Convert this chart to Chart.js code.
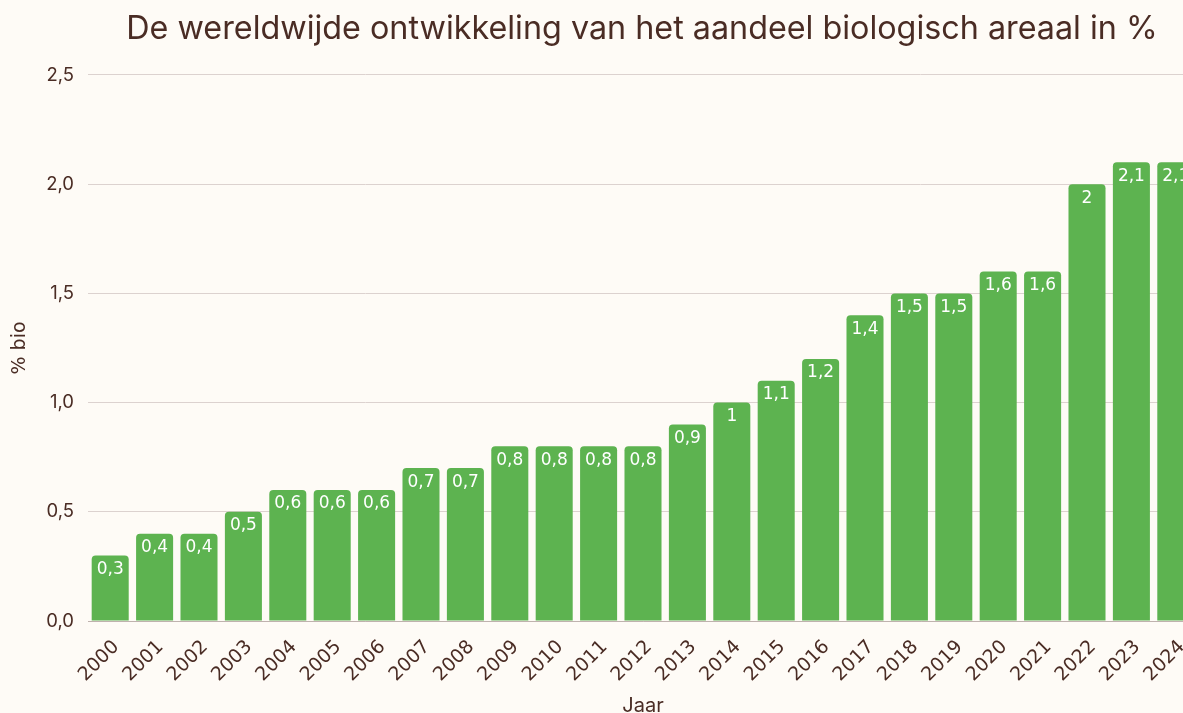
<!DOCTYPE html>
<html>
<head>
<meta charset="utf-8">
<script src="https://cdn.jsdelivr.net/npm/chart.js@4.4.1/dist/chart.umd.min.js"></script>
<style>
  html, body { margin: 0; padding: 0; background: #fefbf6; overflow: hidden; }
  #wrap { width: 1284px; height: 718px; position: relative; }
</style>
</head>
<body>
<div id="wrap"><canvas id="c"></canvas></div>
<script>
const years = ['2000','2001','2002','2003','2004','2005','2006','2007','2008','2009','2010','2011','2012','2013','2014','2015','2016','2017','2018','2019','2020','2021','2022','2023','2024'];
const bioShare = [0.3,0.4,0.4,0.5,0.6,0.6,0.6,0.7,0.7,0.8,0.8,0.8,0.8,0.9,1,1.1,1.2,1.4,1.5,1.5,1.6,1.6,2,2.1,2.1];
const yTicks = [0, 0.5, 1.0, 1.5, 2.0, 2.5];
const titleText = 'De wereldwijde ontwikkeling van het aandeel biologisch areaal in %';
const xTitle = 'Jaar';
const yTitle = '% bio';

const brown = '#4a2c24';
const fontFam = 'Inter, "Noto Sans", sans-serif';
const wideFam = '"DejaVu Sans", Inter, sans-serif';

const labelPlugin = {
  id: 'barLabels',
  afterDatasetsDraw(chart) {
    const ctx = chart.ctx;
    const meta = chart.getDatasetMeta(0);
    ctx.save();
    ctx.fillStyle = '#ffffff';
    ctx.font = '17px ' + wideFam;
    ctx.textAlign = 'center';
    ctx.textBaseline = 'middle';
    meta.data.forEach((bar, i) => {
      const v = chart.data.datasets[0].data[i];
      ctx.fillText(String(v).replace('.', ','), bar.x, bar.y + 14);
    });
    ctx.restore();
  }
};

new Chart(document.getElementById('c'), {
  type: 'bar',
  data: {
    labels: years,
    datasets: [{
      data: bioShare,
      backgroundColor: '#5db350',
      borderRadius: 4,
      borderSkipped: 'bottom',
      categoryPercentage: 1,
      barPercentage: 0.834
    }]
  },
  options: {
    responsive: true,
    maintainAspectRatio: false,
    animation: false,
    layout: { padding: 0 },
    plugins: {
      legend: { display: false },
      tooltip: { enabled: false },
      title: {
        display: true,
        text: titleText,
        color: brown,
        font: { family: fontFam, size: 32.3, weight: 'normal' },
        padding: { top: 10, bottom: 26.2 }
      }
    },
    scales: {
      x: {
        grid: { display: false, drawTicks: false },
        border: { display: true, color: '#bfb2ae', width: 1 },
        ticks: {
          color: brown,
          font: { family: wideFam, size: 19 },
          minRotation: 45, maxRotation: 45,
          padding: 15,
          labelOffset: 6,
          autoSkip: false
        },
        title: {
          display: true, text: xTitle, color: brown,
          font: { family: fontFam, size: 20 },
          padding: { top: 0, bottom: 0 }
        },
        afterFit(scale) { scale.height = 97; }
      },
      y: {
        min: 0, max: 2.5,
        afterBuildTicks(scale) { scale.ticks = yTicks.map(v => ({ value: v })); },
        grid: { color: '#dcd2cf', drawTicks: false },
        border: { display: false },
        ticks: {
          color: brown,
          font: { family: fontFam, size: 18.5 },
          padding: 14,
          callback: v => Number(v).toFixed(1).replace('.', ',')
        },
        title: {
          display: true, text: yTitle, color: brown,
          font: { family: wideFam, size: 19 },
          padding: { top: 9, bottom: 10 }
        },
        afterFit(scale) { scale.width = 88; }
      },
      yRight: {
        position: 'right',
        min: 0, max: 2.5,
        grid: { display: false, drawTicks: false },
        border: { display: false },
        ticks: { display: false },
        afterFit(scale) { scale.width = 86; }
      }
    }
  },
  plugins: [labelPlugin]
});
</script>
</body>
</html>
